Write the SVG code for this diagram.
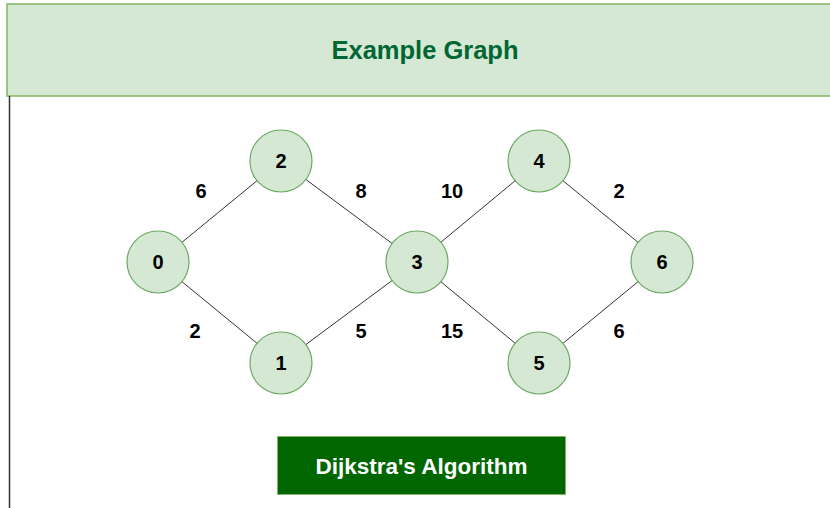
<svg xmlns="http://www.w3.org/2000/svg" width="830" height="508" viewBox="0 0 830 508">
<style>
.node circle{fill:#d5e8d4;stroke:#6aa860;stroke-width:1.2}
.node text,.lbl{font-family:"Liberation Sans",Arial,sans-serif;font-weight:bold;font-size:20px;fill:#000;text-anchor:middle;dominant-baseline:central}
.edges line{stroke:#333;stroke-width:1}
</style>
<rect width="830" height="508" fill="#fff"/>
<g id="header">
<rect x="7" y="4" width="830" height="92" fill="#d5e8d4" stroke="#82b366" stroke-width="1.5"/>
<text x="425" y="50" font-family="Liberation Sans,Arial,sans-serif" font-weight="bold" font-size="25.5" fill="#006633" text-anchor="middle" dominant-baseline="central">Example Graph</text>
</g>
<line x1="9.5" y1="96" x2="9.5" y2="508" stroke="#333" stroke-width="1.5"/>
<g class="edges" id="edges">
<line x1="158" y1="262" x2="281" y2="161"/>
<line x1="158" y1="262" x2="281" y2="363"/>
<line x1="281" y1="161" x2="417" y2="262"/>
<line x1="281" y1="363" x2="417" y2="262"/>
<line x1="417" y1="262" x2="539" y2="161"/>
<line x1="417" y1="262" x2="539" y2="363"/>
<line x1="539" y1="161" x2="662" y2="262"/>
<line x1="539" y1="363" x2="662" y2="262"/>
<text class="lbl" x="201" y="191">6</text>
<text class="lbl" x="361" y="191">8</text>
<text class="lbl" x="452" y="191">10</text>
<text class="lbl" x="619" y="191">2</text>
<text class="lbl" x="195" y="331">2</text>
<text class="lbl" x="361" y="331">5</text>
<text class="lbl" x="452" y="331">15</text>
<text class="lbl" x="619" y="331">6</text>
</g>
<g class="node" id="n0"><circle cx="158" cy="262" r="31"/><text x="158" y="262">0</text></g>
<g class="node" id="n2"><circle cx="281" cy="161" r="31"/><text x="281" y="161">2</text></g>
<g class="node" id="n1"><circle cx="281" cy="363" r="31"/><text x="281" y="363">1</text></g>
<g class="node" id="n3"><circle cx="417" cy="262" r="31"/><text x="417" y="262">3</text></g>
<g class="node" id="n4"><circle cx="539" cy="161" r="31"/><text x="539" y="161">4</text></g>
<g class="node" id="n5"><circle cx="539" cy="363" r="31"/><text x="539" y="363">5</text></g>
<g class="node" id="n6"><circle cx="662" cy="262" r="31"/><text x="662" y="262">6</text></g>
<g id="algo">
<rect x="277.5" y="436.5" width="288" height="58" fill="#006600" stroke="#82b366" stroke-width="1"/>
<text x="421.5" y="466" font-family="Liberation Sans,Arial,sans-serif" font-weight="bold" font-size="22.5" fill="#fff" text-anchor="middle" dominant-baseline="central">Dijkstra's Algorithm</text>
</g>
</svg>
